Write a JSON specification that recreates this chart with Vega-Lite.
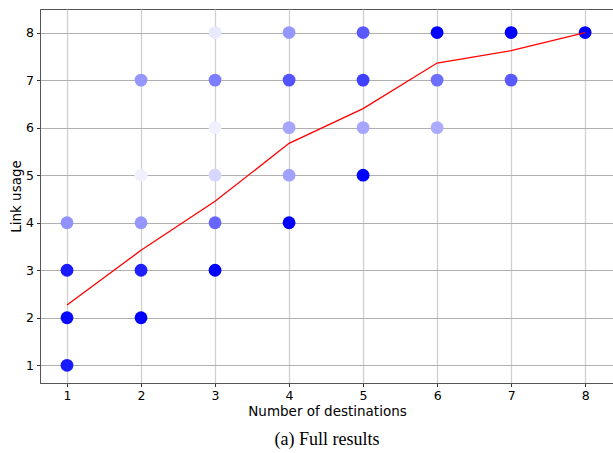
{
  "$schema": "https://vega.github.io/schema/vega-lite/v6.json",
  "autosize": "none",
  "width": 574,
  "height": 374,
  "padding": {"left": 40, "top": 9, "right": 0, "bottom": 70},
  "background": "white",
  "config": {
    "view": {"stroke": "#555555", "strokeWidth": 1},
    "axis": {
      "labelFont": "DejaVu Sans",
      "labelFontSize": 12.5,
      "labelColor": "#000000",
      "titleFont": "DejaVu Sans",
      "titleFontSize": 13.5,
      "titleFontWeight": "normal",
      "titleColor": "#000000",
      "tickColor": "#000000",
      "tickSize": 3.5,
      "tickWidth": 0.8,
      "domainColor": "#555555",
      "domainWidth": 1
    }
  },
  "title": {
    "text": "(a) Full results",
    "orient": "bottom",
    "font": "Liberation Serif",
    "fontSize": 18,
    "fontWeight": "normal",
    "color": "#000000",
    "offset": 13
  },
  "datasets": {
    "points": [
      {"dest": 1, "usage": 1, "freq": 0.9},
      {"dest": 1, "usage": 2, "freq": 0.97},
      {"dest": 1, "usage": 3, "freq": 0.9},
      {"dest": 1, "usage": 4, "freq": 0.43},
      {"dest": 2, "usage": 2, "freq": 1.0},
      {"dest": 2, "usage": 3, "freq": 0.88},
      {"dest": 2, "usage": 4, "freq": 0.41},
      {"dest": 2, "usage": 5, "freq": 0.06},
      {"dest": 2, "usage": 7, "freq": 0.41},
      {"dest": 3, "usage": 3, "freq": 1.0},
      {"dest": 3, "usage": 4, "freq": 0.6},
      {"dest": 3, "usage": 5, "freq": 0.16},
      {"dest": 3, "usage": 6, "freq": 0.06},
      {"dest": 3, "usage": 7, "freq": 0.51},
      {"dest": 3, "usage": 8, "freq": 0.09},
      {"dest": 4, "usage": 4, "freq": 1.0},
      {"dest": 4, "usage": 5, "freq": 0.37},
      {"dest": 4, "usage": 6, "freq": 0.35},
      {"dest": 4, "usage": 7, "freq": 0.67},
      {"dest": 4, "usage": 8, "freq": 0.41},
      {"dest": 5, "usage": 5, "freq": 1.0},
      {"dest": 5, "usage": 6, "freq": 0.35},
      {"dest": 5, "usage": 7, "freq": 0.75},
      {"dest": 5, "usage": 8, "freq": 0.65},
      {"dest": 6, "usage": 6, "freq": 0.33},
      {"dest": 6, "usage": 7, "freq": 0.57},
      {"dest": 6, "usage": 8, "freq": 1.0},
      {"dest": 7, "usage": 7, "freq": 0.65},
      {"dest": 7, "usage": 8, "freq": 1.0},
      {"dest": 8, "usage": 8, "freq": 1.0}
    ],
    "mean": [
      {"dest": 1, "usage": 2.27},
      {"dest": 2, "usage": 3.42},
      {"dest": 3, "usage": 4.45},
      {"dest": 4, "usage": 5.67},
      {"dest": 5, "usage": 6.4},
      {"dest": 6, "usage": 7.36},
      {"dest": 7, "usage": 7.62},
      {"dest": 8, "usage": 8.0}
    ]
  },
  "layer": [
    {
      "data": {"name": "points"},
      "mark": {"type": "point", "filled": true, "shape": "circle", "size": 165, "opacity": 1, "strokeWidth": 0},
      "encoding": {
        "x": {
          "field": "dest", "type": "quantitative",
          "scale": {"domain": [0.635, 8.39], "nice": false, "zero": false},
          "axis": {
            "title": "Number of destinations",
            "values": [1, 2, 3, 4, 5, 6, 7, 8],
            "format": "d",
            "grid": true,
            "gridColor": "#d0d0d0",
            "gridWidth": 1.3,
            "labelPadding": 2.5,
            "titlePadding": 3
          }
        },
        "y": {
          "field": "usage", "type": "quantitative",
          "scale": {"domain": [0.628, 8.496], "nice": false, "zero": false},
          "axis": {
            "title": "Link usage",
            "values": [1, 2, 3, 4, 5, 6, 7, 8],
            "format": "d",
            "grid": true,
            "gridColor": "#b0b0b0",
            "gridWidth": 1,
            "labelPadding": 3,
            "titlePadding": 2
          }
        },
        "color": {"field": "freq", "type": "quantitative", "scale": {"domain": [0, 1], "range": ["#ffffff", "#0000ff"], "interpolate": "rgb"}, "legend": null}
      }
    },
    {
      "data": {"name": "mean"},
      "mark": {"type": "line", "color": "#ff0000", "strokeWidth": 1.3},
      "encoding": {
        "x": {"field": "dest", "type": "quantitative"},
        "y": {"field": "usage", "type": "quantitative"}
      }
    }
  ]
}
